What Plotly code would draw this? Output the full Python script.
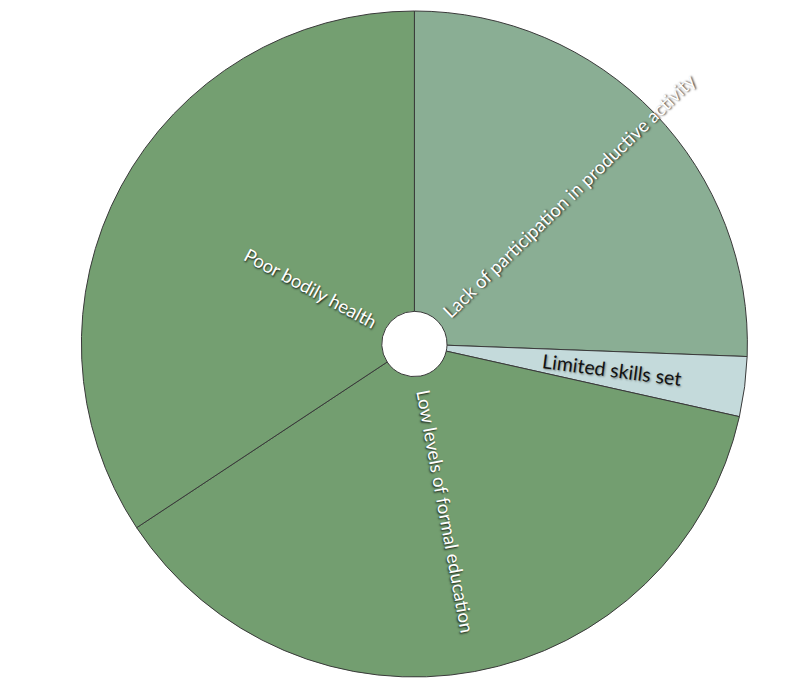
import math
import plotly.graph_objects as go

# Share of each factor (percent), in clockwise order from 12 o'clock
categories = [
    "Lack of participation in productive activity",
    "Limited skills set",
    "Low levels of formal education",
    "Poor bodily health",
]
values = [25.6, 2.9, 37.2, 34.3]

colors = ["#8aae94", "#c4dadb", "#739e70", "#749f71"]
label_colors = ["#ffffff", "#111111", "#ffffff", "#ffffff"]
label_sizes = [18.5, 19.5, 18.5, 18.5]
label_radius_px = [214, 199, 170, 118]   # distance of each label's centre from the pie centre

W, H = 795, 680
cx_px, cy_px, r_px = 414.4, 344.0, 333.0

dom_x = [(cx_px - r_px) / W, (cx_px + r_px) / W]
dom_y = [1 - (cy_px + r_px) / H, 1 - (cy_px - r_px) / H]

fig = go.Figure(
    go.Pie(
        labels=categories,
        values=values,
        sort=False,
        direction="clockwise",
        rotation=0,
        hole=0.098,
        marker=dict(colors=colors, line=dict(color="#3a3a3a", width=1)),
        textinfo="none",
        hoverinfo="label+percent",
        showlegend=False,
        domain=dict(x=dom_x, y=dom_y),
    )
)

# Radial labels placed along each slice's bisector
total = sum(values)
cum = 0.0
annotations = []
for name, v, col, size, rad in zip(categories, values, label_colors, label_sizes, label_radius_px):
    mid = (cum + v / 2) / total * 360.0
    cum += v
    t = math.radians(mid)
    px = cx_px + rad * math.sin(t)
    py = cy_px - rad * math.cos(t)
    angle = mid - 90 if mid < 180 else mid - 270
    shadow = "1px 1px 2px rgba(0,0,0,0.8)" if col == "#ffffff" else "1px 1px 2px rgba(0,0,0,0.4)"
    annotations.append(
        dict(
            x=px / W,
            y=1 - py / H,
            xref="paper",
            yref="paper",
            text=name,
            showarrow=False,
            textangle=angle,
            xanchor="center",
            yanchor="middle",
            font=dict(family="Lato, 'Open Sans', sans-serif", size=size, color=col, shadow=shadow),
        )
    )

fig.update_layout(
    width=W,
    height=H,
    margin=dict(l=0, r=0, t=0, b=0),
    paper_bgcolor="white",
    plot_bgcolor="white",
    annotations=annotations,
)

fig.write_html("out.html")
